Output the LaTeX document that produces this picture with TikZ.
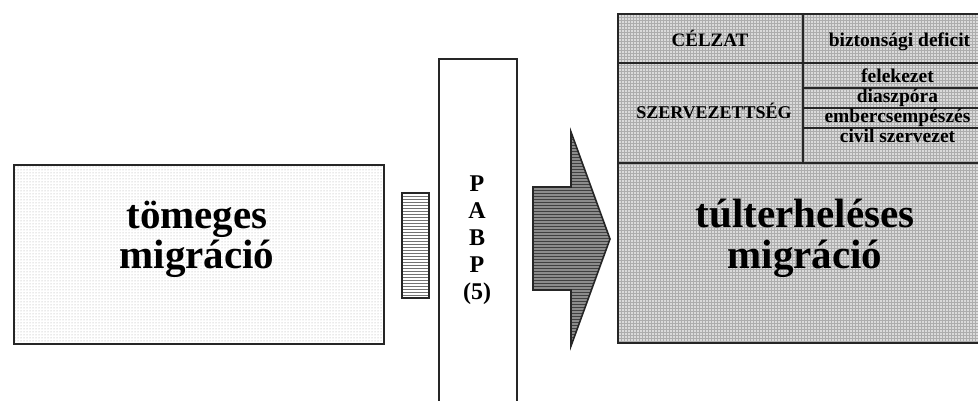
\documentclass[tikz,border=0pt]{standalone}
\usepackage{fontspec}
\setmainfont{Liberation Serif}
\usetikzlibrary{patterns}
\tikzset{
  frame/.style={draw=black!85, line width=1.6pt},
  bigtxt/.style={font=\fontsize{41}{45}\selectfont\bfseries, inner sep=0pt, anchor=base},
  midtxt/.style={font=\fontsize{24}{27}\selectfont\bfseries, inner sep=0pt, anchor=base},
  smalltxt/.style={font=\fontsize{19.5}{21}\selectfont\bfseries, inner sep=0pt, anchor=base},
}
\begin{document}
\begin{tikzpicture}[x=1pt,y=-1pt]
\useasboundingbox (0,0) rectangle (978,401);
\clip (0,0) rectangle (978,401);
\fill[white] (0,0) rectangle (978,401);

% left box
\node[frame, rectangle, anchor=north west, inner sep=0pt, minimum width=370pt, minimum height=179pt,
  preaction={fill=white}, pattern=dots, pattern color=black!35] (left) at (13,164) {};
\node[bigtxt] (t1) at (197,229) {tömeges};
\node[bigtxt] (t2) at (197,269) {migráció};

% small striped rectangle
\node[frame, rectangle, anchor=north west, inner sep=0pt, minimum width=27pt, minimum height=105pt,
  preaction={fill=white}, pattern=horizontal lines, pattern color=black!55] (small) at (401,192) {};

% PABP box
\node[frame, rectangle, anchor=north west, inner sep=0pt, minimum width=78pt, minimum height=360pt,
  fill=white] (pabp) at (438,58) {};
\node[midtxt] (p1) at (477,191.5) {P};
\node[midtxt] (p2) at (477,218.5) {A};
\node[midtxt] (p3) at (477,245.5) {B};
\node[midtxt] (p4) at (477,272.5) {P};
\node[midtxt] (p5) at (477,299.5) {(5)};

% arrow
\draw[frame, line join=miter, preaction={fill=black!45}, pattern=horizontal lines, pattern color=black!75]
  (533,187) -- (571,187) -- (571,132) -- (610,239) -- (571,346) -- (571,290) -- (533,290) -- cycle;

% right box
\node[frame, rectangle, anchor=north west, inner sep=0pt, minimum width=379pt, minimum height=329pt,
  preaction={fill=black!14}, pattern=grid, pattern color=black!32] (right) at (617,13) {};
\coordinate (vtop) at (803,13);
\coordinate (vbot) at (803,163);
\coordinate (h1l) at (617,63);   \coordinate (h1r) at (996,63);
\coordinate (h2l) at (803,88);   \coordinate (h2r) at (996,88);
\coordinate (h3l) at (803,108);  \coordinate (h3r) at (996,108);
\coordinate (h4l) at (803,128);  \coordinate (h4r) at (996,128);
\coordinate (h5l) at (617,163);  \coordinate (h5r) at (996,163);
\draw[frame] (vtop) -- (vbot);
\draw[frame] (h1l) -- (h1r);
\draw[frame] (h2l) -- (h2r);
\draw[frame] (h3l) -- (h3r);
\draw[frame] (h4l) -- (h4r);
\draw[frame] (h5l) -- (h5r);

\node[smalltxt, font=\fontsize{19}{21}\selectfont\bfseries] (celzat) at (710,47) {CÉLZAT};
\node[smalltxt] (bizt) at (899.5,47) {biztonsági deficit};
\node[smalltxt, font=\fontsize{18}{20}\selectfont\bfseries] (szerv) at (714,119) {SZERVEZETTSÉG};
\node[smalltxt] (fel) at (897.5,83) {felekezet};
\node[smalltxt] (dia) at (897.5,102.5) {diaszpóra};
\node[smalltxt] (emb) at (897.5,122.5) {embercsempészés};
\node[smalltxt] (civ) at (897.5,143) {civil szervezet};

\node[bigtxt] (r1) at (805,227) {túlterheléses};
\node[bigtxt] (r2) at (805,268) {migráció};
\end{tikzpicture}
\end{document}
